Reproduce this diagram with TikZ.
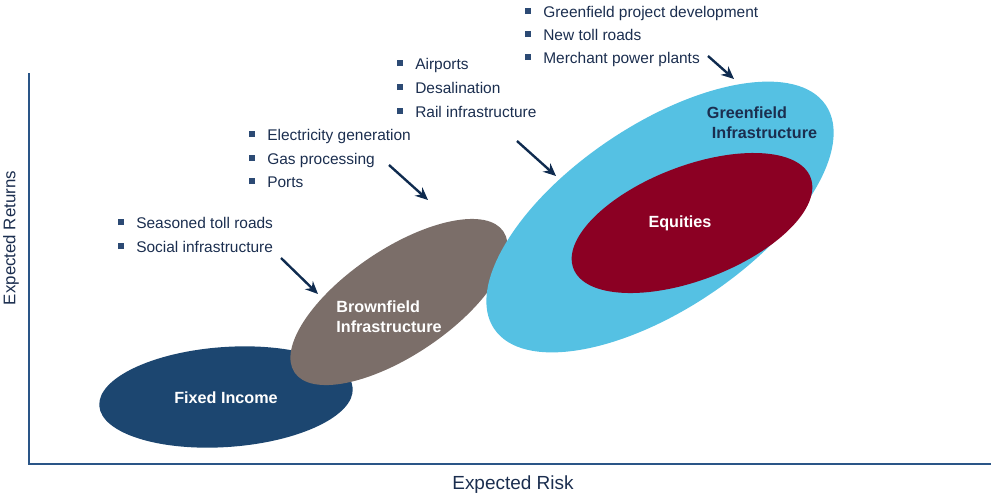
\documentclass[tikz,border=0pt]{standalone}
\usepackage{fontspec}
\setmainfont{Liberation Sans}
\usepackage{xcolor}
\usepackage{tikz}
\usetikzlibrary{arrows.meta}
\definecolor{fixedc}{HTML}{1C4670}
\definecolor{brownc}{HTML}{7B6E69}
\definecolor{greenc}{HTML}{55C1E3}
\definecolor{equitc}{HTML}{8B0023}
\definecolor{txtc}{HTML}{1B2E4F}
\definecolor{bulc}{HTML}{2C4A74}
\definecolor{axisc}{HTML}{2A5587}
\definecolor{arrc}{HTML}{0F2B4F}
\tikzset{>={Stealth[length=9pt,width=8pt]}}
\tikzset{itm/.style={anchor=base west, inner sep=0pt, text=txtc, font=\fontsize{11}{13}\selectfont},
         lbl/.style={inner sep=0pt, text=white, font=\bfseries\fontsize{11.5}{14}\selectfont},
         pointer/.style={->, arrc, line width=1.7pt}}
\newcommand{\bsq}{\textcolor{bulc}{\rule[2pt]{4.3pt}{4.3pt}}\hspace{8.5pt}}

\begin{document}
\begin{tikzpicture}[x=0.025cm, y=-0.025cm]
    \useasboundingbox (0,0) rectangle (998,501);
    % axes
    \draw[axisc, line width=1pt] (29,73) -- (29,464) -- (991,464);
    \node[text=txtc, font=\fontsize{12}{14}\selectfont, rotate=90] (yax) at (11,238) {Expected Returns};
    \node[text=txtc, font=\fontsize{13.5}{16}\selectfont] (xax) at (513,485) {Expected Risk};

    % the four asset clouds
    \fill[fixedc, rotate around={4:(226,397)}] (226,397) ellipse (127 and 50);
    \fill[brownc, rotate around={34:(399,302)}] (399,302) ellipse (126 and 53);
    \fill[greenc, rotate around={34:(660,217)}] (660,217) ellipse (200 and 92);
    \fill[equitc, rotate around={21:(692,223)}] (692,223) ellipse (127 and 57);

    \node[lbl] (fixlbl) at (226,398) {Fixed Income};
    \node[lbl, align=left] (brnlbl) at (389,317) {Brownfield\\Infrastructure};
    \node[lbl, align=left, text=txtc] (grnlbl) at (762,123) {Greenfield\\\hspace*{3.5pt}Infrastructure};
    \node[lbl] (eqlbl) at (680,223) {Equities};

    % bullet lists
    \node[itm] (ga) at (525,17) {\bsq Greenfield project development};
    \node[itm] (gb) at (525,40) {\bsq New toll roads};
    \node[itm] (gc) at (525,63) {\bsq Merchant power plants};

    \node[itm] (ra) at (397,69) {\bsq Airports};
    \node[itm] (rb) at (397,93) {\bsq Desalination};
    \node[itm] (rc) at (397,117) {\bsq Rail infrastructure};

    \node[itm] (ea) at (249,140) {\bsq Electricity generation};
    \node[itm] (eb) at (249,164) {\bsq Gas processing};
    \node[itm] (ec) at (249,187) {\bsq Ports};

    \node[itm] (sa) at (118,228) {\bsq Seasoned toll roads};
    \node[itm] (sb) at (118,252) {\bsq Social infrastructure};

    % arrows
    \coordinate (gs) at (708,56);  \coordinate (ge) at (734,79);
    \coordinate (rs) at (517,141); \coordinate (re) at (556,176);
    \coordinate (es) at (389,165); \coordinate (ee) at (428,200);
    \coordinate (ss) at (281,258); \coordinate (se) at (318,294);
    \draw[pointer] (gs) -- (ge);
    \draw[pointer] (rs) -- (re);
    \draw[pointer] (es) -- (ee);
    \draw[pointer] (ss) -- (se);
\end{tikzpicture}
\end{document}
